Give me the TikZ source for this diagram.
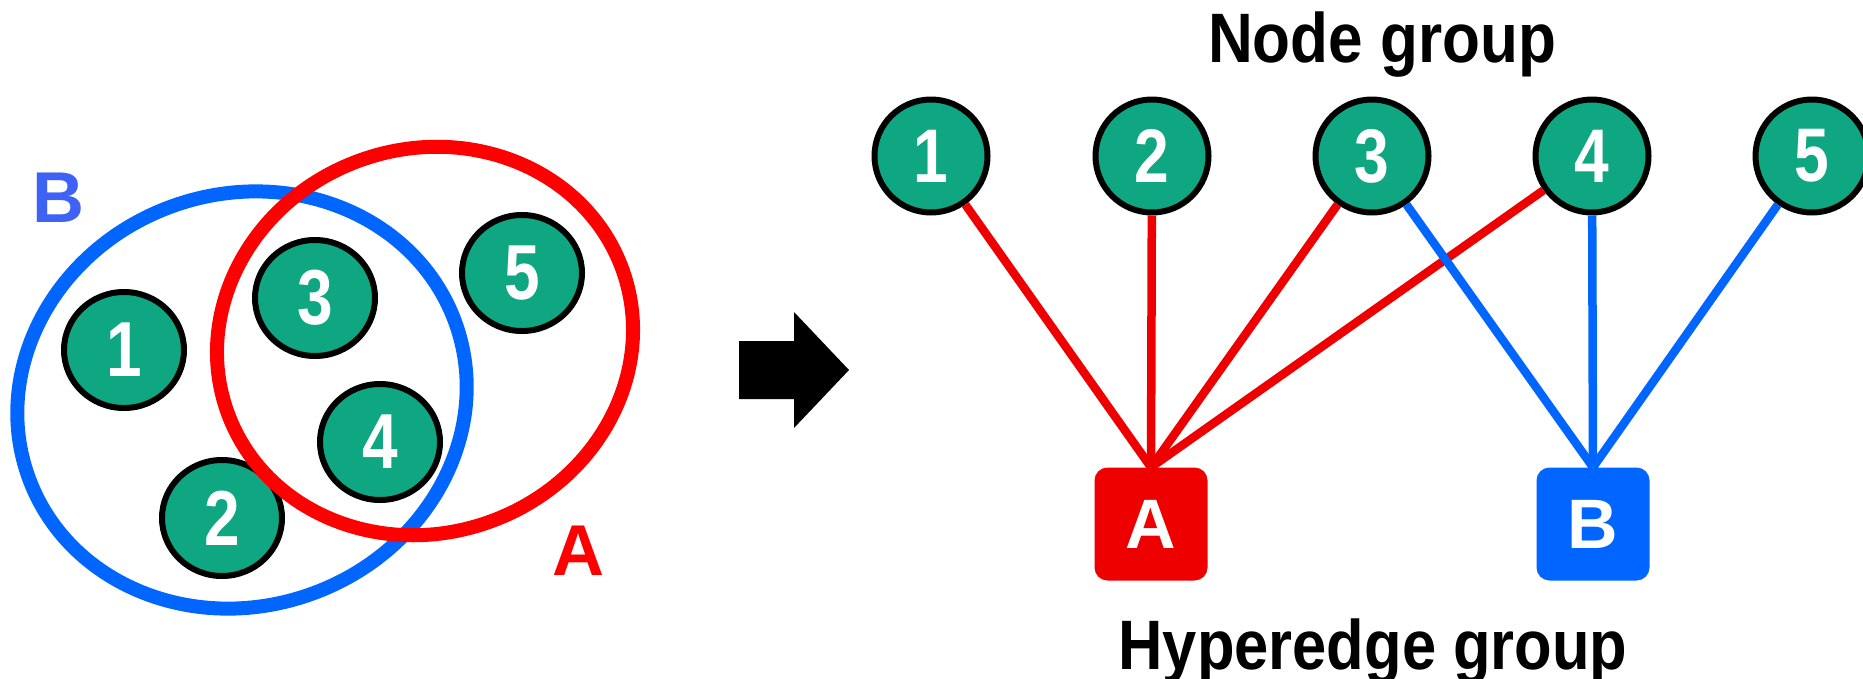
\documentclass[tikz,border=0pt]{standalone}
\usepackage{fontspec}
\setmainfont{Liberation Sans}
\usetikzlibrary{shapes.geometric}
\definecolor{grn}{RGB}{15,166,130}
\definecolor{redA}{RGB}{255,0,0}
\definecolor{redB}{RGB}{238,0,0}
\definecolor{blu}{RGB}{0,102,255}
\definecolor{bluL}{RGB}{61,98,245}
\newcommand{\dg}[1]{\scalebox{0.82}[1]{#1}}
\begin{document}
\begin{tikzpicture}[x=1pt,y=-1pt,
  lnode/.style={ellipse,draw=black,line width=6pt,fill=grn,minimum width=120pt,minimum height=116pt,inner sep=0pt,
     font=\fontsize{78}{78}\selectfont\bfseries,text=white},
  rnode/.style={circle,draw=black,line width=6pt,fill=grn,minimum size=113pt,inner sep=0pt,
     font=\fontsize{76}{76}\selectfont\bfseries,text=white},
  hbox/.style={rectangle,rounded corners=13pt,minimum size=113pt,inner sep=0pt,
     font=\fontsize{70}{70}\selectfont\bfseries,text=white},
  ring/.style={line width=14pt},
  link/.style={line width=8.5pt},
  title/.style={font=\fontsize{70}{70}\selectfont\bfseries,anchor=base},
  lbl/.style={font=\fontsize{72}{72}\selectfont\bfseries}]
\useasboundingbox (0,0) rectangle (1863,678);
% left diagram nodes
\node[lnode] (l1) at (124,350) {\dg{1}};
\node[lnode] (l2) at (222,518) {\dg{2}};
\node[lnode] (l3) at (315,298) {\dg{3}};
\node[lnode] (l4) at (380,442) {\dg{4}};
\node[lnode] (l5) at (522,273) {\dg{5}};
% hyperedge ellipses
\coordinate (cb) at (242,400);
\coordinate (ca) at (425,341);
\draw[ring,blu,rotate around={20:(cb)}] (cb) ellipse [x radius=227, y radius=206];
\draw[ring,redA,rotate around={20:(ca)}] (ca) ellipse [x radius=210, y radius=192];
\node[lbl,text=bluL] (lb) at (58,198) {B};
\node[lbl,text=redA] (la) at (578,551) {A};
% arrow
\fill[black] (739,341) -- (794,341) -- (794,312) -- (849,370) -- (794,428) -- (794,399) -- (739,399) -- cycle;
% right diagram
\node[rnode] (n1) at (931,156) {\dg{1}};
\node[rnode] (n2) at (1152,156) {\dg{2}};
\node[rnode] (n3) at (1372,156) {\dg{3}};
\node[rnode] (n4) at (1592,156) {\dg{4}};
\node[rnode] (n5) at (1812,156) {\dg{5}};
\node[hbox,fill=redB] (A) at (1151,524) {A};
\node[hbox,fill=blu] (B) at (1593,524) {B};
\draw[link,redB] (n1) -- (A.north);
\draw[link,redB] (n2) -- (A.north);
\draw[link,redB] (n3) -- (A.north);
\draw[link,redB] (n4) -- (A.north);
\draw[link,blu] (n3) -- (B.north);
\draw[link,blu] (n4) -- (B.north);
\draw[link,blu] (n5) -- (B.north);
\node[title] (tn) at (1382,62) {\resizebox{348pt}{\height}{Node group}};
\node[title] (th) at (1373,669) {\resizebox{509pt}{\height}{Hyperedge group}};
\end{tikzpicture}
\end{document}
